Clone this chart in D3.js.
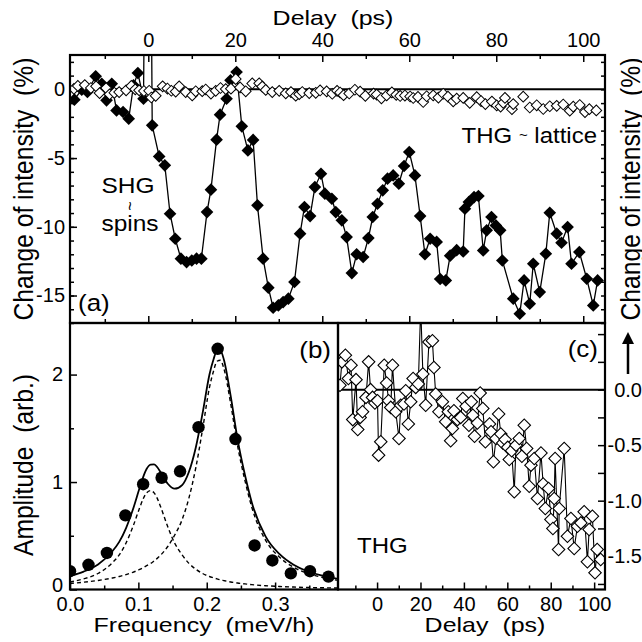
<!DOCTYPE html>
<html>
<head>
<meta charset="utf-8">
<script src="https://cdn.jsdelivr.net/npm/d3@7"></script>
<style>
  body { margin: 0; background: #fff; }
  svg { display: block; font-family: "Liberation Sans", Arial, Helvetica, sans-serif; }
</style>
</head>
<body>
<div id="chart"></div>
<script>
// (a) SHG, filled diamonds: delay (ps) and change of intensity (%)
const shgDelay = [-17.0, -15.3, -14.0, -12.1, -10.7, -9.6, -8.4, -7.3, -5.8, -4.5, -3.4, -2.4, -1.1, 0.0,
  0.9, 2.5, 3.8, 5.0, 6.2, 7.5, 8.8, 10.0, 11.1, 12.2, 13.5, 14.4, 15.7, 16.5, 18.0, 18.9, 20.3,
  21.5, 22.9, 24.1, 25.1, 26.4, 27.6, 28.7, 29.9, 31.0, 32.2, 33.6, 34.9, 35.9, 37.2, 38.3, 39.7,
  40.6, 42.2, 43.1, 44.5, 45.6, 46.8, 47.9, 49.4, 50.6, 51.6, 52.7, 53.9, 55.0, 56.3, 57.6, 58.8,
  60.0, 61.3, 62.5, 63.6, 64.8, 66.3, 67.1, 68.4, 69.4, 70.9, 72.4, 72.8, 73.7, 74.9, 75.9, 77.0,
  77.8, 78.9, 79.9, 80.9, 81.4, 83.9, 85.4, 86.4, 87.7, 88.5, 90.0, 91.4, 92.3, 93.9, 95.0, 96.4,
  97.3, 99.1, 100.8, 102.3, 103.3];
const shgChange = [-0.75, -0.02, -0.19, 0.95, 0.41, -0.80, 0.41, -1.53, -1.65, -2.13, 0.29, 1.19, -0.68, 40,
  -2.62, -4.88, -5.53, -9.05, -10.87, -12.32, -12.57, -12.45, -12.32, -12.32, -8.93, -7.30, -3.66, -1.84, -0.68, 0.66, 1.26,
  -2.69, -4.44, -3.68, -8.44, -12.32, -14.43, -15.89, -15.72, -15.48, -15.23, -14.02, -10.50, -8.56, -9.22, -7.11, -6.14,
  -7.59, -7.96, -8.93, -9.53, -10.75, -13.37, -12.0, -12.2, -10.82, -9.29, -8.32, -7.35, -6.50, -6.26, -6.86, -5.58,
  -4.56, -6.26, -9.22, -12.0, -10.87, -11.1, -13.8, -13.9, -12.1, -11.7, -11.8, -8.68, -8.2, -7.84, -7.76, -11.72,
  -10.26, -9.29, -9.9, -10.26, -12.45, -15.23, -16.33, -13.9, -15.6, -12.69, -14.75, -11.96, -8.98, -10.50, -11.16, -10.02,
  -12.69, -11.84, -13.78, -15.72, -13.9];

// (a) and (c) THG, open diamonds
const thgDelay = [-17.1, -16.2, -14.6, -13.2, -12.0, -11.2, -9.7, -8.9, -7.8, -6.7, -5.1, -3.9, -3.0, -2.1, -1.0,
  0.2, 0.7, 1.7, 3.3, 4.4, 5.3, 6.3, 7.1, 8.6, 10.1, 10.9, 12.4, 13.2, 14.4, 15.5, 16.6, 17.8, 19.0,
  20.1, 21.1, 22.4, 23.9, 25.5, 26.2, 27.0, 28.5, 30.1, 31.6, 32.8, 33.9, 34.7, 35.4, 37.0, 38.5, 39.5,
  41.0, 42.3, 43.4, 44.1, 44.9, 46.2, 47.5, 48.7, 49.9, 51.8, 52.5, 53.6, 54.8, 56.0, 57.0, 57.9, 59.0,
  60.2, 60.9, 62.0, 63.2, 64.0, 65.5, 66.7, 67.8, 68.9, 70.1, 70.9, 72.4, 73.9, 75.5, 76.5, 77.5, 79.0,
  80.1, 81.0, 81.6, 82.0, 83.6, 83.9, 86.2, 87.7, 89.3, 90.8, 92.3, 93.9, 95.4, 96.9, 97.7, 99.2,
  100.4, 101.4, 103.0];
const thgChange = [0.04, 0.25, 0.31, 0.10, 0.22, -0.27, 0.09, -0.36, -0.25, -0.20, -0.07, 0.25, 0.0, -0.07, -0.12,
  -0.10, -0.59, -0.47, 0.22, 0.06, -0.10, -0.16, 0.22, -0.20, -0.44, -0.14, -0.13, -0.01, -0.31, -0.11, 0.10, 0.02, 0.05,
  0.75, 0.14, -0.14, 0.43, 0.44, 0.20, -0.04, -0.20, -0.11, -0.29, -0.20, -0.46, -0.35, -0.19, -0.27, -0.25, -0.08,
  -0.15, -0.32, -0.11, -0.23, -0.42, -0.30, -0.03, -0.17, -0.47, -0.31, -0.38, -0.65, -0.44, -0.22, -0.40, -0.48, -0.45,
  -0.52, -0.63, -0.55, -0.92, -0.50, -0.44, -0.60, -0.32, -0.53, -0.87, -0.68, -0.62, -0.98, -0.57, -0.85, -1.07, -0.89,
  -1.17, -1.25, -0.98, -0.62, -1.44, -1.07, -0.53, -1.32, -1.16, -1.43, -1.23, -1.20, -1.10, -1.55, -1.26, -1.14,
  -1.65, -1.44, -1.53];

// (b) Fourier amplitude, filled circles
const ampFreq = [0.000, 0.027, 0.054, 0.081, 0.107, 0.134, 0.161, 0.188, 0.216, 0.242, 0.270, 0.296, 0.323, 0.351, 0.378];
const ampValue = [0.17, 0.23, 0.34, 0.69, 0.98, 1.04, 1.10, 1.51, 2.24, 1.40, 0.41, 0.27, 0.15, 0.17, 0.12];

// (b) fit curves: sum (solid) and two peaks (dashed)
const fitFreq = [0, 0.020, 0.041, 0.061, 0.072, 0.082, 0.092, 0.102, 0.107, 0.112, 0.118, 0.123, 0.128, 0.133,
  0.143, 0.153, 0.164, 0.174, 0.184, 0.194, 0.204, 0.210, 0.215, 0.220, 0.225, 0.235, 0.245, 0.256, 0.266,
  0.286, 0.307, 0.327, 0.347, 0.368, 0.392];
const fitTotal = [0.126, 0.167, 0.233, 0.349, 0.443, 0.572, 0.744, 0.949, 1.046, 1.121, 1.162, 1.165, 1.135, 1.085,
  0.984, 0.938, 0.972, 1.096, 1.322, 1.643, 2.001, 2.143, 2.223, 2.223, 2.141, 1.801, 1.402, 1.063, 0.808,
  0.494, 0.326, 0.230, 0.170, 0.131, 0.099];
const fitLow = [0.070, 0.099, 0.149, 0.243, 0.322, 0.433, 0.584, 0.762, 0.843, 0.899, 0.920, 0.899, 0.843, 0.762,
  0.584, 0.433, 0.322, 0.243, 0.189, 0.149, 0.121, 0.109, 0.099, 0.090, 0.083, 0.070, 0.060, 0.052, 0.045,
  0.035, 0.028, 0.023, 0.019, 0.016, 0.014];
const fitHigh = [0.056, 0.068, 0.084, 0.106, 0.121, 0.139, 0.160, 0.187, 0.203, 0.222, 0.242, 0.266, 0.292, 0.323,
  0.400, 0.505, 0.650, 0.853, 1.133, 1.494, 1.880, 2.034, 2.124, 2.133, 2.058, 1.731, 1.342, 1.011, 0.763,
  0.459, 0.298, 0.207, 0.151, 0.115, 0.085];

// tick values
const delayMajor = [0, 20, 40, 60, 80, 100];
const delayMinor = [-10, 10, 30, 50, 70, 90];
const changeMajor = [0, -5, -10, -15];
const changeMinor = d3.range(-17, 3, 1);
const ampMajor = [0, 1, 2];
const ampMinor = [0.5, 1.5];
const freqMajor = [0, 0.1, 0.2, 0.3];
const freqMinor = [0.05, 0.15, 0.25, 0.35];
const thgMajor = [0, -0.5, -1.0, -1.5];
const thgMinor = [0.5, 0.25, -0.25, -0.75, -1.25, -1.75];

const width = 642, height = 642;
const A = { left: 70, right: 605, top: 55, bottom: 323 };
const B = { left: 70, right: 338, top: 323, bottom: 589.5 };
const C = { left: 338, right: 605, top: 323, bottom: 589.5 };

const svg = d3.select('#chart').append('svg')
  .attr('width', width)
  .attr('height', height);

const xA = d3.scaleLinear().domain([-18, 105]).range([A.left, A.right]);
const yA = d3.scaleLinear().domain([-17, 2.5]).range([A.bottom, A.top]);
const xB = d3.scaleLinear().domain([0, 0.392]).range([B.left, B.right]);
const yB = d3.scaleLinear().domain([0, 2.48]).range([B.bottom, B.top]);
const xC = d3.scaleLinear().domain([-18, 105]).range([C.left, C.right]);
const yC = d3.scaleLinear().domain([-1.8, 0.6]).range([C.bottom, C.top]);

const hyphen = f => d => f(d).replace('\u2212', '-');

// clip paths for the three panels
const defs = svg.append('defs');
[['clipA', A], ['clipB', B], ['clipC', C]].forEach(([id, p]) => {
  defs.append('clipPath').attr('id', id)
    .append('rect')
    .attr('x', p.left).attr('y', p.top)
    .attr('width', p.right - p.left).attr('height', p.bottom - p.top);
});

// tick helper: inward ticks, optional labels
function ticks(axisFn, scale, values, size, transform, fmt, pad) {
  const g = svg.append('g').attr('transform', transform);
  g.call(axisFn(scale).tickValues(values).tickSizeInner(-size).tickSizeOuter(0)
    .tickPadding(pad || 6).tickFormat(fmt || (() => '')));
  g.select('.domain').remove();
  g.attr('font-size', 20).attr('font-family', null);
  g.selectAll('line').attr('stroke-width', 1.5);
  return g;
}

// ---------- panel (a) ----------
ticks(d3.axisTop, xA, delayMajor, 7, `translate(0,${A.top})`, d3.format('d'), 8);
ticks(d3.axisTop, xA, delayMinor, 4, `translate(0,${A.top})`);
ticks(d3.axisBottom, xA, delayMajor, 7, `translate(0,${A.bottom})`);
ticks(d3.axisBottom, xA, delayMinor, 4, `translate(0,${A.bottom})`);
ticks(d3.axisLeft, yA, changeMajor, 7, `translate(${A.left},0)`, hyphen(d3.format('d')), 5);
ticks(d3.axisLeft, yA, changeMinor, 4, `translate(${A.left},0)`);
ticks(d3.axisRight, yA, changeMinor, 4, `translate(${A.right},0)`);

const plotA = svg.append('g').attr('clip-path', 'url(#clipA)');

plotA.append('line')
  .attr('x1', A.left).attr('x2', A.right)
  .attr('y1', yA(0)).attr('y2', yA(0))
  .attr('stroke', 'black').attr('stroke-width', 2);

const shg = shgDelay.map((t, i) => ({ t, v: shgChange[i] }));
const thg = thgDelay.map((t, i) => ({ t, v: thgChange[i] }));

plotA.append('path')
  .datum(shg)
  .attr('d', d3.line().x(d => xA(d.t)).y(d => yA(d.v)))
  .attr('fill', 'none')
  .attr('stroke', 'black')
  .attr('stroke-width', 1.3);

const diamond = s => d3.symbol().type(d3.symbolSquare).size(s)();

plotA.append('g')
  .selectAll('path')
  .data(shg)
  .join('path')
  .attr('d', diamond(80))
  .attr('transform', d => `translate(${xA(d.t)},${yA(d.v)}) rotate(45)`)
  .attr('fill', 'black');

plotA.append('g')
  .selectAll('path')
  .data(thg)
  .join('path')
  .attr('d', diamond(58))
  .attr('transform', d => `translate(${xA(d.t)},${yA(d.v)}) rotate(45)`)
  .attr('fill', 'white')
  .attr('stroke', 'black')
  .attr('stroke-width', 1);

// ---------- panel (b) ----------
const leftB = ticks(d3.axisLeft, yB, ampMajor, 7, `translate(${B.left},0)`, d3.format('d'), 7);
leftB.selectAll('text').filter(d => d === 0).attr('dy', '0.1em');
ticks(d3.axisLeft, yB, ampMinor, 4, `translate(${B.left},0)`);
ticks(d3.axisBottom, xB, freqMajor, 7, `translate(0,${B.bottom})`, d3.format('.1f'), 7);
ticks(d3.axisBottom, xB, freqMinor, 4, `translate(0,${B.bottom})`);

const plotB = svg.append('g').attr('clip-path', 'url(#clipB)');
const fitLine = arr => d3.line()
  .x((d, i) => xB(fitFreq[i]))
  .y(d => yB(d))
  .curve(d3.curveMonotoneX)(arr);

[fitLow, fitHigh].forEach(arr => {
  plotB.append('path')
    .attr('d', fitLine(arr))
    .attr('fill', 'none')
    .attr('stroke', 'black')
    .attr('stroke-width', 1.4)
    .attr('stroke-dasharray', '4,3');
});
plotB.append('path')
  .attr('d', fitLine(fitTotal))
  .attr('fill', 'none')
  .attr('stroke', 'black')
  .attr('stroke-width', 1.8);

plotB.append('g')
  .selectAll('circle')
  .data(ampFreq)
  .join('circle')
  .attr('cx', d => xB(d))
  .attr('cy', (d, i) => yB(ampValue[i]))
  .attr('r', 6.2)
  .attr('fill', 'black');

// ---------- panel (c) ----------
ticks(d3.axisBottom, xC, delayMajor, 7, `translate(0,${C.bottom})`, d3.format('d'), 7);
ticks(d3.axisBottom, xC, delayMinor, 4, `translate(0,${C.bottom})`);
const rightC = ticks(d3.axisRight, yC, thgMajor, 7, `translate(${C.right},0)`, hyphen(d3.format('.1f')), 37);
rightC.selectAll('text').attr('text-anchor', 'end');
ticks(d3.axisRight, yC, thgMinor, 7, `translate(${C.right},0)`);

const plotC = svg.append('g').attr('clip-path', 'url(#clipC)');
plotC.append('line')
  .attr('x1', C.left).attr('x2', C.right)
  .attr('y1', yC(0)).attr('y2', yC(0))
  .attr('stroke', 'black').attr('stroke-width', 2);

plotC.append('path')
  .datum(thg)
  .attr('d', d3.line().x(d => xC(d.t)).y(d => yC(d.v)))
  .attr('fill', 'none')
  .attr('stroke', 'black')
  .attr('stroke-width', 1.1);

plotC.append('g')
  .selectAll('path')
  .data(thg)
  .join('path')
  .attr('d', diamond(78))
  .attr('transform', d => `translate(${xC(d.t)},${yC(d.v)}) rotate(45)`)
  .attr('fill', 'white')
  .attr('stroke', 'black')
  .attr('stroke-width', 1.1);

// ---------- frames ----------
[A, B, C].forEach(p => {
  svg.append('rect')
    .attr('x', p.left).attr('y', p.top)
    .attr('width', p.right - p.left).attr('height', p.bottom - p.top)
    .attr('fill', 'none')
    .attr('stroke', 'black')
    .attr('stroke-width', 2.2);
});

// ---------- texts ----------
function label(x, y, str, size, anchor, squash, rotate) {
  const t = svg.append('text')
    .attr('transform', rotate
      ? `translate(${x},${y}) rotate(-90) scale(${squash},1)`
      : `translate(${x},${y}) scale(1,${squash})`)
    .attr('text-anchor', anchor)
    .attr('font-size', size)
    .style('white-space', 'pre')
    .text(str);
  return t;
}

label(333, 25, 'Delay  (ps)', 25, 'middle', 0.83);
label(204, 632, 'Frequency  (meV/h)', 25, 'middle', 0.83);
label(485, 632, 'Delay  (ps)', 25, 'middle', 0.83);
label(33, 189, 'Change of intensity  (%)', 28, 'middle', 0.88, true);
label(33, 465, 'Amplitude  (arb.)', 28, 'middle', 0.88, true);
label(640, 189, 'Change of intensity  (%)', 28, 'middle', 0.88, true);

label(78, 311, '(a)', 26, 'start', 0.95);
label(331, 358, '(b)', 26, 'end', 0.95);
label(598, 357, '(c)', 26, 'end', 0.95);
label(128, 193, 'SHG', 24.5, 'middle', 0.9);
label(130, 231, 'spins', 24.5, 'middle', 0.9);
svg.append('text')
  .attr('transform', 'translate(129,206) rotate(90)')
  .attr('text-anchor', 'middle')
  .attr('dy', '0.3em')
  .attr('font-size', 16)
  .text('~');
const thgLabel = label(597, 143, 'THG ', 24, 'end', 0.92);
thgLabel.append('tspan').attr('font-size', 15).attr('dy', -3).text('~');
thgLabel.append('tspan').attr('dy', 3).text(' lattice');
label(357, 553, 'THG', 24, 'start', 0.92);

// arrow next to the right-hand axis title
svg.append('line')
  .attr('x1', 628).attr('x2', 628)
  .attr('y1', 374).attr('y2', 343)
  .attr('stroke', 'black').attr('stroke-width', 2.5);
svg.append('path')
  .attr('d', d3.line()([[622, 344], [634, 344], [628, 332]]) + 'Z')
  .attr('fill', 'black');
</script>
</body>
</html>
